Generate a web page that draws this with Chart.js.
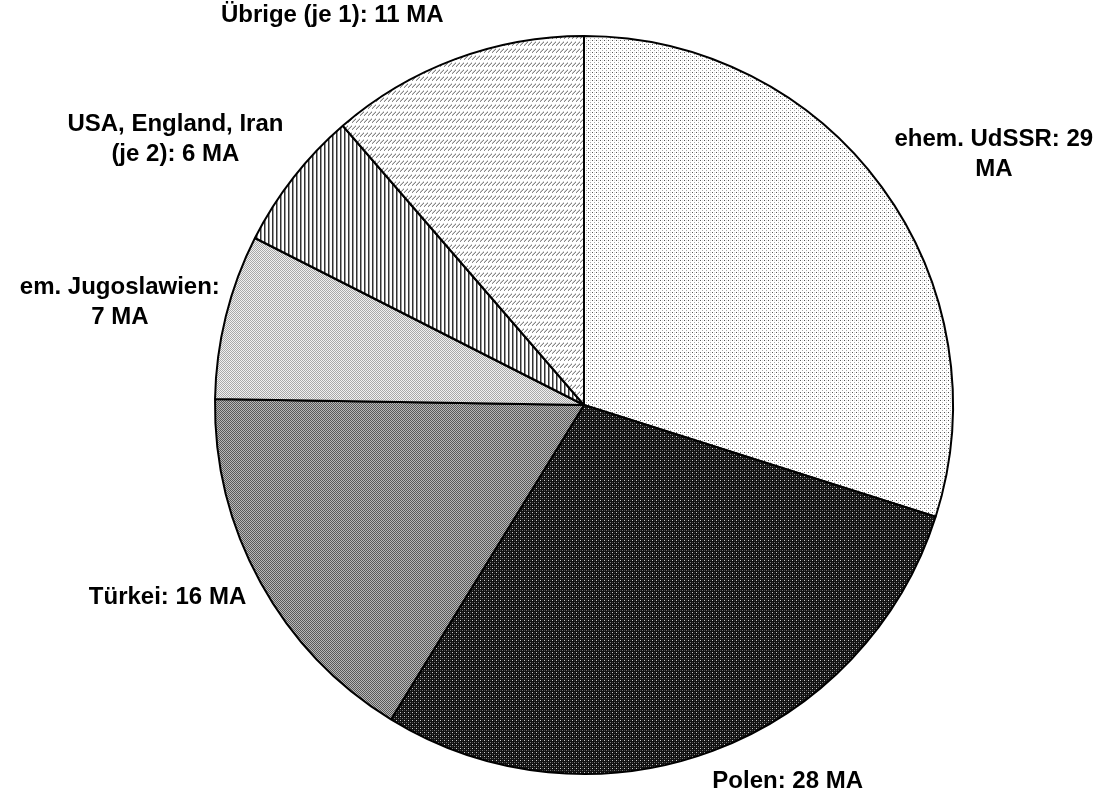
<!DOCTYPE html>
<html>
<head>
<meta charset="utf-8">
<script src="https://cdn.jsdelivr.net/npm/chart.js@4/dist/chart.umd.min.js"></script>
<style>
  html, body { margin: 0; padding: 0; background: #fff; }
  canvas { display: block; }
</style>
</head>
<body>
<canvas id="pie" width="1096" height="791"></canvas>
<script>
// data (clockwise from 12 o'clock)
const labels = [
  ["ehem. UdSSR: 29", "MA"],
  ["Polen: 28 MA"],
  ["Türkei: 16 MA"],
  ["em. Jugoslawien:", "7 MA"],
  ["USA, England, Iran", "(je 2): 6 MA"],
  ["Übrige (je 1): 11 MA"]
];
const values = [29, 28, 16, 7, 6, 11];

// where each label sits relative to the outer middle of its slice
const labelOffsets = [[112, -33], [75, 31], [-93, 15], [-106, -14], [-118, -38], [-123, -44]];

// small tiles for the grayscale fill patterns
function tile(w, h, bg, px) {
  const c = document.createElement("canvas");
  c.width = w; c.height = h;
  const g = c.getContext("2d");
  g.fillStyle = bg;
  g.fillRect(0, 0, w, h);
  px.forEach(([x, y, col]) => { g.fillStyle = col; g.fillRect(x, y, 1, 1); });
  return g.createPattern(c, "repeat");
}

const ctx = document.getElementById("pie").getContext("2d");

const patterns = [
  // sparse dots
  tile(4, 4, "#fff", [[0, 0, "#555"], [2, 2, "#aaa"], [2, 0, "#ddd"]]),
  // dark with light dots
  tile(4, 4, "#111", [[0, 0, "#ccc"], [2, 2, "#777"], [2, 0, "#333"], [0, 2, "#444"]]),
  // medium checker
  tile(2, 2, "#5a5a5a", [[1, 0, "#b8b8b8"], [0, 1, "#b8b8b8"]]),
  // light checker
  tile(2, 2, "#a8a8a8", [[1, 0, "#f0f0f0"], [0, 1, "#f0f0f0"]]),
  // vertical stripes
  tile(4, 1, "#fff", [[0, 0, "#333"], [1, 0, "#999"]]),
  // diagonal hatch rows
  tile(4, 7, "#fff", [[0, 3, "#888"], [1, 2, "#888"], [2, 1, "#888"], [3, 0, "#888"],
                      [0, 2, "#ccc"], [1, 1, "#ccc"], [2, 0, "#ccc"], [3, 6, "#ccc"]])
];

const FONT = 'bold 24px "Liberation Sans", Arial, sans-serif';

const outsideLabels = {
  id: "outsideLabels",
  afterDatasetsDraw(chart) {
    const c = chart.ctx;
    const arcs = chart.getDatasetMeta(0).data;
    c.save();
    c.font = FONT;
    c.fillStyle = "#000";
    c.textAlign = "center";
    c.textBaseline = "middle";
    arcs.forEach((arc, i) => {
      const p = arc.getProps(["x", "y", "startAngle", "endAngle", "outerRadius"], true);
      const mid = (p.startAngle + p.endAngle) / 2;
      const ax = p.x + Math.cos(mid) * p.outerRadius + labelOffsets[i][0];
      const ay = p.y + Math.sin(mid) * p.outerRadius + labelOffsets[i][1];
      const lines = labels[i];
      const lh = 30;
      lines.forEach((t, k) => {
        c.fillText(t, ax, ay + (k - (lines.length - 1) / 2) * lh);
      });
    });
    c.restore();
  }
};

new Chart(ctx, {
  type: "pie",
  data: {
    labels: labels.map(l => l.join(" ")),
    datasets: [{
      data: values,
      backgroundColor: patterns,
      borderColor: "#000",
      borderWidth: 2
    }]
  },
  options: {
    responsive: false,
    animation: false,
    layout: { padding: { left: 214, right: 142, top: 35, bottom: 16 } },
    plugins: {
      legend: { display: false },
      tooltip: { enabled: false }
    }
  },
  plugins: [outsideLabels]
});
</script>
</body>
</html>
